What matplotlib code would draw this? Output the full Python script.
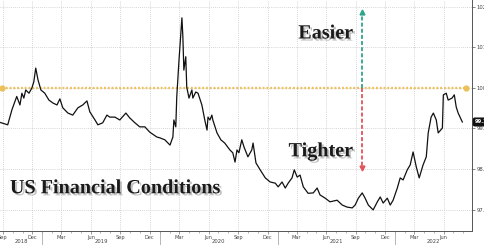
import numpy as np
import pandas as pd
import matplotlib
matplotlib.use("Agg")
import matplotlib.pyplot as plt
import matplotlib.dates as mdates
import matplotlib.patheffects as pe

# US financial conditions index
dates = ["2018-08-23", "2018-09-16", "2018-09-29", "2018-10-08", "2018-10-14", "2018-10-24",
         "2018-10-30", "2018-11-05", "2018-11-11", "2018-11-21", "2018-11-30", "2018-12-06",
         "2018-12-12", "2018-12-19", "2018-12-28", "2019-01-09", "2019-01-22", "2019-02-03",
         "2019-02-16", "2019-02-25", "2019-03-06", "2019-03-22", "2019-04-06", "2019-04-22",
         "2019-05-07", "2019-05-20", "2019-05-29", "2019-06-14", "2019-06-23", "2019-07-08",
         "2019-07-21", "2019-07-30", "2019-08-15", "2019-08-30", "2019-09-18", "2019-09-30",
         "2019-10-16", "2019-10-31", "2019-11-16", "2019-12-01", "2019-12-23", "2020-01-01",
         "2020-01-17", "2020-02-02", "2020-02-11", "2020-02-14", "2020-02-20", "2020-02-23",
         "2020-03-01", "2020-03-10", "2020-03-13", "2020-03-16", "2020-03-22", "2020-03-25",
         "2020-04-01", "2020-04-10", "2020-04-13", "2020-04-22", "2020-04-29", "2020-05-11",
         "2020-05-20", "2020-05-27", "2020-05-30", "2020-06-05", "2020-06-11", "2020-06-14",
         "2020-06-27", "2020-07-09", "2020-07-21", "2020-08-06", "2020-08-15", "2020-08-22",
         "2020-08-28", "2020-09-03", "2020-09-12", "2020-09-19", "2020-10-01", "2020-10-13",
         "2020-10-17", "2020-10-26", "2020-11-08", "2020-11-24", "2020-12-09", "2020-12-25",
         "2021-01-03", "2021-01-15", "2021-01-25", "2021-02-03", "2021-02-15", "2021-02-22",
         "2021-03-03", "2021-03-12", "2021-03-22", "2021-04-06", "2021-04-22", "2021-05-04",
         "2021-05-13", "2021-05-29", "2021-06-13", "2021-07-05", "2021-07-21", "2021-08-05",
         "2021-08-21", "2021-08-30", "2021-09-09", "2021-09-21", "2021-09-30", "2021-10-10",
         "2021-10-25", "2021-11-07", "2021-11-16", "2021-11-25", "2021-12-08", "2021-12-17",
         "2021-12-26", "2022-01-08", "2022-01-17", "2022-01-26", "2022-02-08", "2022-02-17",
         "2022-02-26", "2022-03-08", "2022-03-17", "2022-03-29", "2022-04-08", "2022-04-14",
         "2022-04-23", "2022-04-30", "2022-05-09", "2022-05-15", "2022-05-28", "2022-05-31",
         "2022-06-09", "2022-06-15", "2022-06-27", "2022-07-04", "2022-07-10", "2022-07-16",
         "2022-07-22", "2022-07-29"]
fci = [99.15, 99.09, 99.46, 99.66, 99.79, 99.58,
       99.87, 99.75, 99.95, 99.87, 100.0, 100.15,
       100.49, 100.2, 99.95, 99.87, 99.70, 99.63,
       99.58, 99.73, 99.51, 99.38, 99.33, 99.51,
       99.58, 99.68, 99.41, 99.21, 99.09, 99.14,
       99.33, 99.28, 99.28, 99.21, 99.38, 99.26,
       99.14, 99.04, 99.04, 98.91, 98.79, 98.77,
       98.72, 98.59, 98.79, 99.21, 99.04, 99.78,
       100.69, 101.73, 101.26, 100.44, 100.77, 100.02,
       99.75, 99.95, 99.75, 99.90, 99.87, 99.58,
       99.21, 98.96, 99.28, 99.21, 99.33, 99.21,
       98.89, 98.72, 98.64, 98.47, 98.40, 98.17,
       98.47, 98.40, 98.72, 98.54, 98.30, 98.47,
       98.64, 98.15, 97.98, 97.78, 97.68, 97.65,
       97.56, 97.68, 97.53, 97.65, 97.78, 97.98,
       97.80, 97.85, 97.56, 97.40, 97.41, 97.53,
       97.36, 97.28, 97.19, 97.23, 97.11, 97.06,
       97.04, 97.11, 97.28, 97.41, 97.28, 97.11,
       96.99, 97.19, 97.31, 97.16, 97.28, 97.11,
       97.23, 97.53, 97.78, 97.73, 97.98, 98.10,
       98.42, 98.05, 97.78, 98.10, 98.30, 98.89,
       99.28, 99.38, 99.21, 98.89, 99.01, 99.83,
       99.87, 99.70, 99.75, 99.83, 99.53, 99.38,
       99.28, 99.16]
last_label = "99.2"

neutral = 100.0
arrow_date = "2021-09-21"
easier_top = 101.88
tighter_bottom = 98.02
years = [2018, 2019, 2020, 2021, 2022]
x_start, x_end = "2018-08-23", "2022-08-28"

d = pd.to_datetime(dates)
xs, xe = pd.Timestamp(x_start), pd.Timestamp(x_end)

fig = plt.figure(figsize=(4.85, 2.45), dpi=100)
ax = fig.add_axes([0, 14 / 245, 472 / 485, 231 / 245])

ax.set_xlim(xs, xe)
ax.set_ylim(96.47, 102.17)

# grid
ax.grid(True, which="major", color="#c8c8c8", linestyle=(0, (1, 1.5)), linewidth=0.6)

# neutral line at 100
gold = "#ecc05a"
ends = [xs + pd.Timedelta(days=6), xe - pd.Timedelta(days=20)]
ax.plot(ends, [neutral, neutral], color=gold, linestyle=(0, (0.8, 0.8)),
        linewidth=1.7, zorder=2)
ax.plot(ends, [neutral, neutral], linestyle="none", marker="o", markersize=3.5,
        color=gold, zorder=2)

# easier / tighter arrows
ad = pd.Timestamp(arrow_date)
ax.plot([ad, ad], [neutral, easier_top], color="#2fa58a", lw=1.3,
        linestyle=(0, (2.2, 1.2)), zorder=3)
ax.plot([ad], [easier_top], marker="^", markersize=3.5, color="#2fa58a", zorder=3)
ax.plot([ad, ad], [neutral, tighter_bottom], color="#e0545a", lw=1.3,
        linestyle=(0, (2.2, 1.2)), zorder=3)
ax.plot([ad], [tighter_bottom], marker="v", markersize=3.5, color="#e0545a", zorder=3)

# series
ax.plot(d, fci, color="#111111", linewidth=0.9, zorder=4)

# text with shadow
shadow = [pe.withSimplePatchShadow(offset=(1.5, -1.5), shadow_rgbFace="#888888", alpha=0.5)]
txt = dict(family="Liberation Serif", fontweight="bold", fontsize=14.5, color="#1a1a1a",
           path_effects=shadow, zorder=5)
ax.text(0.748, 0.855, "Easier", transform=ax.transAxes, ha="right", va="center", **txt)
ax.text(0.748, 0.345, "Tighter", transform=ax.transAxes, ha="right", va="center", **txt)
ax.text(0.021, 0.185, "US Financial Conditions", transform=ax.transAxes,
        ha="left", va="center", **txt)

# spines
for s in ["left", "top"]:
    ax.spines[s].set_visible(False)
for s in ["right", "bottom"]:
    ax.spines[s].set_color("#555555")
    ax.spines[s].set_linewidth(0.7)

# x axis
ax.xaxis.set_major_locator(mdates.MonthLocator(bymonth=[3, 6, 9, 12]))
ax.xaxis.set_major_formatter(mdates.DateFormatter("%b"))
ax.xaxis.set_minor_locator(mdates.MonthLocator())
ax.tick_params(axis="x", which="major", labelsize=3.6, labelcolor="#444444",
               length=2, width=0.5, color="#777777", pad=0.6)
ax.tick_params(axis="x", which="minor", length=1.2, width=0.4, color="#777777")

# year labels and separators
trans = ax.get_xaxis_transform()
for yr in years:
    y0 = max(pd.Timestamp(f"{yr}-01-01"), xs)
    y1 = min(pd.Timestamp(f"{yr + 1}-01-01"), xe)
    mid = y0 + (y1 - y0) / 2
    ax.text(mid, -0.047, str(yr), transform=trans, ha="center", va="center",
            fontsize=3.8, color="#444444")
    if pd.Timestamp(f"{yr}-01-01") > xs:
        ax.plot([pd.Timestamp(f"{yr}-01-01")] * 2, [0, -0.07], transform=trans,
                color="#999999", linewidth=0.5, clip_on=False)

# y axis on the right
ax.yaxis.tick_right()
ax.set_yticks([97, 98, 99, 100, 101, 102])
ax.yaxis.set_major_formatter(matplotlib.ticker.FormatStrFormatter("%.1f"))
ax.tick_params(axis="y", labelsize=3.8, labelcolor="#444444", length=2,
               width=0.5, color="#555555", pad=1)

# last value tag
ax.annotate(last_label, xy=(1.0, fci[-1]), xycoords=("axes fraction", "data"),
            xytext=(2, 0), textcoords="offset points", ha="left", va="center",
            fontsize=3.8, color="white", fontweight="bold",
            bbox=dict(boxstyle="round,pad=0.25", fc="#111111", ec="#111111"),
            annotation_clip=False, zorder=6)

fig.savefig("out.png", dpi=100)
